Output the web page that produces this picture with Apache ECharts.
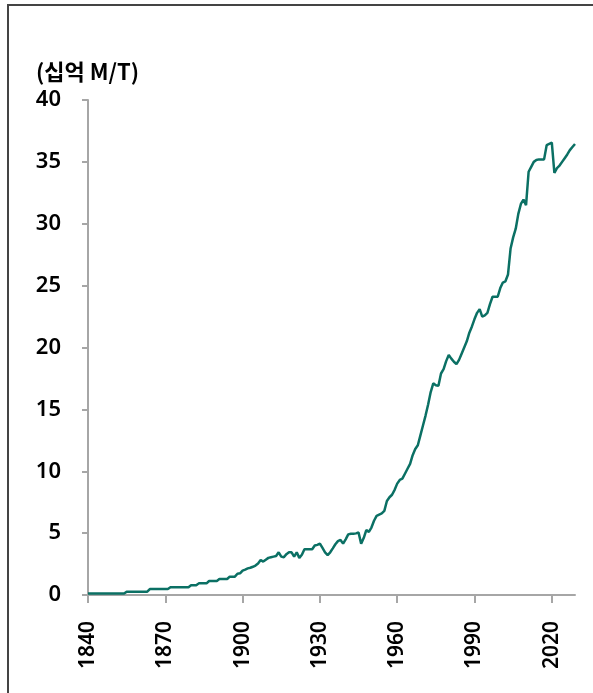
<!DOCTYPE html>
<html>
<head>
<meta charset="utf-8">
<script src="https://cdn.jsdelivr.net/npm/echarts@6/dist/echarts.min.js"></script>
<style>
  html, body { margin: 0; padding: 0; background: #fff; }
  #chart { width: 593px; height: 693px; }
</style>
</head>
<body>
<div id="chart"></div>
<script>
var dom = document.getElementById('chart');
var myChart = echarts.init(dom, null, { renderer: 'canvas' });

// categories: one per year, 1840..2029
var firstYear = 1840;
var lastYear = 2029;
var years = [];
for (var y = firstYear; y <= lastYear; y++) {
  years.push(String(y));
}

// emissions, billion metric tons (one row per decade)
var emissions = [
  0.12, 0.12, 0.12, 0.12, 0.12, 0.12, 0.12, 0.12, 0.12, 0.12, // 1840s
  0.12, 0.12, 0.12, 0.12, 0.12, 0.27, 0.27, 0.27, 0.27, 0.27, // 1850s
  0.27, 0.27, 0.27, 0.27, 0.48, 0.48, 0.48, 0.48, 0.48, 0.48, // 1860s
  0.48, 0.48, 0.62, 0.62, 0.62, 0.62, 0.62, 0.62, 0.62, 0.62, // 1870s
  0.78, 0.78, 0.78, 0.94, 0.94, 0.94, 0.94, 1.13, 1.13, 1.13, // 1880s
  1.13, 1.29, 1.29, 1.29, 1.29, 1.48, 1.48, 1.48, 1.72, 1.75, // 1890s
  1.97, 2.05, 2.15, 2.2, 2.28, 2.38, 2.55, 2.83, 2.7, 2.85,   // 1900s
  3.0, 3.05, 3.1, 3.15, 3.45, 3.1, 3.05, 3.3, 3.45, 3.45,     // 1910s
  3.1, 3.45, 3.0, 3.25, 3.7, 3.7, 3.7, 3.7, 4.0, 4.05,        // 1920s
  4.15, 3.8, 3.45, 3.23, 3.45, 3.77, 4.1, 4.35, 4.45, 4.15,   // 1930s
  4.5, 4.9, 4.95, 4.95, 4.98, 5.05, 4.15, 4.6, 5.25, 5.1,     // 1940s
  5.45, 6.0, 6.4, 6.5, 6.6, 6.8, 7.6, 7.9, 8.1, 8.5,          // 1950s
  9.0, 9.3, 9.4, 9.8, 10.2, 10.6, 11.3, 11.8, 12.1, 12.9,     // 1960s
  13.7, 14.5, 15.4, 16.4, 17.1, 16.95, 16.9, 17.9, 18.25, 18.9, // 1970s
  19.4, 19.1, 18.85, 18.65, 19.0, 19.5, 20.0, 20.5, 21.2, 21.7, // 1980s
  22.3, 22.8, 23.1, 22.5, 22.6, 22.8, 23.5, 24.1, 24.1, 24.1,   // 1990s
  24.8, 25.25, 25.35, 25.9, 28.0, 28.9, 29.6, 30.8, 31.6, 31.95, // 2000s
  31.5, 34.2, 34.6, 35.0, 35.15, 35.2, 35.2, 35.2, 36.35, 36.45, // 2010s
  36.55, 34.1, 34.5, 34.7, 35.0, 35.3, 35.6, 35.95, 36.2, 36.45  // 2020s
];

var unitLabel = '(십억 M/T)';

var font = '"Noto Sans", "Noto Sans CJK KR", sans-serif';
var axisGray = '#a6a6a6';

var option = {
  animation: false,
  textStyle: { fontFamily: font },
  title: {
    text: unitLabel,
    left: 31,
    top: 56,
    textStyle: {
      fontFamily: '"Noto Sans CJK KR", "Noto Sans", sans-serif',
      fontSize: 22,
      fontWeight: 'bold',
      color: '#000'
    }
  },
  graphic: [
    {
      type: 'rect',
      shape: { x: 8, y: 5, width: 700, height: 800 },
      style: { fill: 'none', stroke: '#444', lineWidth: 2 },
      silent: true
    }
  ],
  grid: {
    left: 88,
    right: 18,
    top: 100,
    bottom: 98,
    containLabel: false
  },
  xAxis: {
    type: 'category',
    data: years,
    boundaryGap: false,
    axisLine: { show: true, lineStyle: { color: axisGray, width: 2 } },
    axisTick: {
      show: true,
      interval: 29,
      length: 8,
      lineStyle: { color: axisGray, width: 2 }
    },
    axisLabel: {
      interval: 29,
      rotate: 90,
      margin: 26,
      fontSize: 21,
      fontWeight: 600,
      color: '#000',
      fontFamily: font
    },
    splitLine: { show: false }
  },
  yAxis: {
    type: 'value',
    min: 0,
    max: 40,
    interval: 5,
    axisLine: { show: true, lineStyle: { color: axisGray, width: 2 } },
    axisTick: { show: true, length: 6, lineStyle: { color: axisGray, width: 2 } },
    axisLabel: {
      margin: 27,
      fontSize: 22,
      fontWeight: 600,
      color: '#000',
      fontFamily: font
    },
    splitLine: { show: false }
  },
  series: [
    {
      type: 'line',
      data: emissions,
      showSymbol: false,
      symbol: 'none',
      lineStyle: { color: '#0b7064', width: 2.5 }
    }
  ]
};

myChart.setOption(option);
window.addEventListener('resize', myChart.resize);
</script>
</body>
</html>
